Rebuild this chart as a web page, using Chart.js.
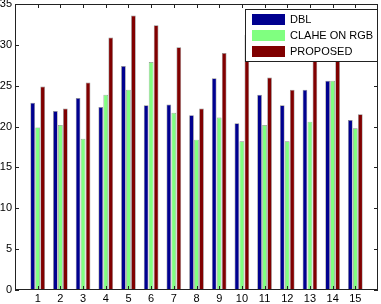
<!DOCTYPE html>
<html>
<head>
<meta charset="utf-8">
<script src="https://cdn.jsdelivr.net/npm/chart.js@4"></script>
<style>
  html, body { margin: 0; padding: 0; background: #fff; }
  #wrap { width: 381px; height: 304px; }
</style>
</head>
<body>
<div id="wrap"><canvas id="barChart" width="381" height="304"></canvas></div>
<script>
// data
const categories = [1, 2, 3, 4, 5, 6, 7, 8, 9, 10, 11, 12, 13, 14, 15];
const dblValues = [22.9, 21.9, 23.5, 22.4, 27.4, 22.6, 22.7, 21.4, 25.9, 20.4, 23.9, 22.6, 24.5, 25.6, 20.8];
const claheValues = [19.9, 20.2, 18.5, 23.9, 24.5, 27.9, 21.7, 18.4, 21.1, 18.2, 20.2, 18.2, 20.6, 25.6, 19.8];
const proposedValues = [24.9, 22.2, 25.4, 30.9, 33.6, 32.4, 29.7, 22.2, 29.0, 31.2, 26.0, 24.5, 30.1, 29.3, 21.5];
const seriesNames = ['DBL', 'CLAHE ON RGB', 'PROPOSED'];
const yTicks = [0, 5, 10, 15, 20, 25, 30, 35];

const fontFamily = '"Liberation Sans", Arial, sans-serif';
const axisColor = '#222';

const toPoints = vals => categories.map((c, i) => ({ x: c, y: vals[i] }));

// box + inward ticks, matlab style
const axesBox = {
    id: 'axesBox',
    afterDraw(chart) {
        const { ctx, chartArea: a, scales } = chart;
        ctx.save();
        ctx.strokeStyle = axisColor;
        ctx.lineWidth = 1;
        ctx.strokeRect(a.left + 0.5, a.top + 0.5, a.right - a.left - 1, a.bottom - a.top - 1);
        const len = 4;
        ctx.beginPath();
        yTicks.forEach(v => {
            const y = Math.round(scales.y.getPixelForValue(v)) + 0.5;
            ctx.moveTo(a.left, y); ctx.lineTo(a.left + len, y);
            ctx.moveTo(a.right, y); ctx.lineTo(a.right - len, y);
        });
        categories.forEach(c => {
            const x = Math.round(scales.x.getPixelForValue(c)) + 0.5;
            ctx.moveTo(x, a.bottom); ctx.lineTo(x, a.bottom - len);
            ctx.moveTo(x, a.top); ctx.lineTo(x, a.top + len);
        });
        ctx.stroke();
        ctx.restore();
    }
};

// legend box in the top right corner
const insideLegend = {
    id: 'insideLegend',
    afterDraw(chart) {
        const ctx = chart.ctx;
        const a = chart.chartArea;
        const boxW = 132, boxH = 52;
        const bx = a.right - boxW - 1, by = a.top + 5;
        ctx.save();
        ctx.fillStyle = '#fff';
        ctx.fillRect(bx, by, boxW, boxH);
        ctx.strokeStyle = axisColor;
        ctx.lineWidth = 1;
        ctx.strokeRect(bx + 0.5, by + 0.5, boxW, boxH);
        ctx.font = '11px ' + fontFamily;
        ctx.textBaseline = 'middle';
        chart.data.datasets.forEach((ds, i) => {
            const rowY = by + 10 + i * 16;
            ctx.fillStyle = ds.backgroundColor;
            ctx.fillRect(bx + 7, rowY - 5, 33, 11);
            ctx.fillStyle = '#000';
            ctx.fillText(ds.label, bx + 45, rowY + 1);
        });
        ctx.restore();
    }
};

const ctx = document.getElementById('barChart');
new Chart(ctx, {
    type: 'bar',
    data: {
        datasets: [
            { label: seriesNames[0], data: toPoints(dblValues), backgroundColor: '#00008f' },
            { label: seriesNames[1], data: toPoints(claheValues), backgroundColor: '#80ff80' },
            { label: seriesNames[2], data: toPoints(proposedValues), backgroundColor: '#800000' }
        ]
    },
    options: {
        responsive: false,
        animation: false,
        layout: { padding: { top: 4, right: 3, left: 0, bottom: 0 } },
        datasets: {
            bar: {
                categoryPercentage: 0.66,
                barPercentage: 0.94,
                borderWidth: 0.7,
                borderColor: 'rgba(0,0,0,0.45)'
            }
        },
        plugins: {
            legend: { display: false },
            tooltip: { enabled: false }
        },
        scales: {
            x: {
                type: 'linear',
                offset: false,
                min: 0,
                max: 16,
                grid: { display: false, drawTicks: false, offset: false },
                border: { display: false },
                ticks: {
                    stepSize: 1,
                    padding: 2,
                    color: '#000',
                    font: { family: fontFamily, size: 11 },
                    maxRotation: 0,
                    autoSkip: false,
                    callback: v => (v >= 1 && v <= 15) ? v : ''
                },
                afterFit: s => { s.height = 14; s.paddingLeft = 0; s.paddingRight = 0; }
            },
            y: {
                min: 0,
                max: 35,
                grid: { display: false, drawTicks: false },
                border: { display: false },
                ticks: {
                    stepSize: 5,
                    padding: 3,
                    color: '#000',
                    font: { family: fontFamily, size: 11 }
                },
                afterFit: s => { s.width = 15; s.paddingTop = 0; s.paddingBottom = 0; }
            }
        }
    },
    plugins: [axesBox, insideLegend]
});
</script>
</body>
</html>
